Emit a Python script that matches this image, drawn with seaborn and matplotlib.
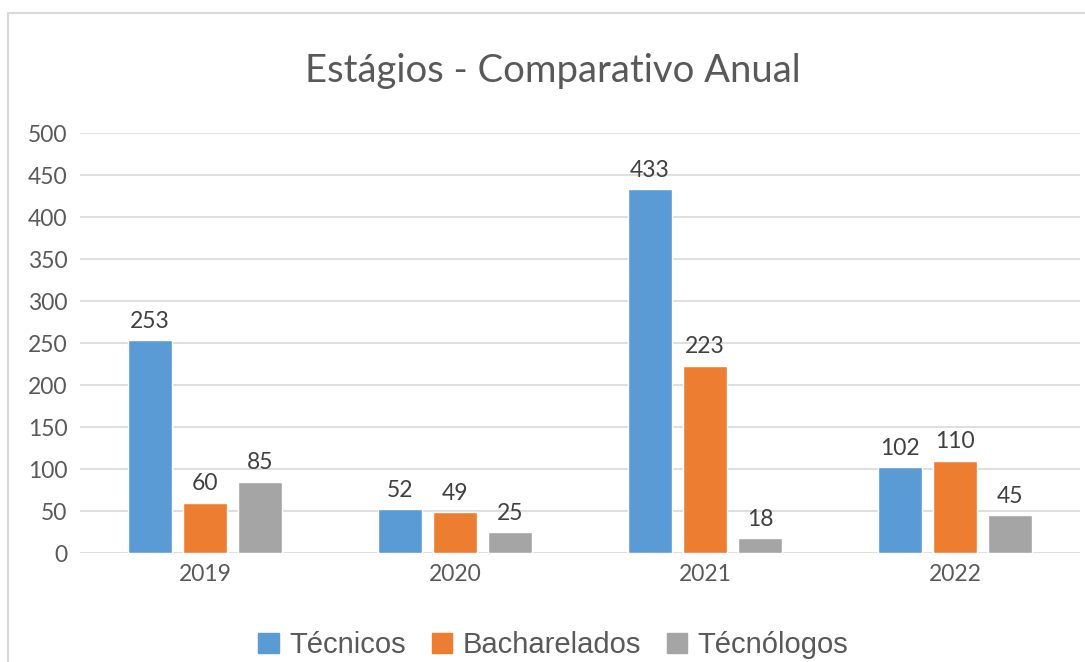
import matplotlib
matplotlib.use("Agg")
import matplotlib.pyplot as plt
import seaborn as sns
import pandas as pd
from matplotlib.patches import Rectangle

years = ["2019", "2020", "2021", "2022"]
series = ["Técnicos", "Bacharelados", "Técnólogos"]
tecnicos = [253, 52, 433, 102]
bacharelados = [60, 49, 223, 110]
tecnologos = [85, 25, 18, 45]
colors = ["#5B9BD5", "#ED7D31", "#A5A5A5"]

rows = []
for s, vals in zip(series, [tecnicos, bacharelados, tecnologos]):
    for y, v in zip(years, vals):
        rows.append({"Ano": y, "Série": s, "Valor": v})
df = pd.DataFrame(rows)

sns.set_theme(style="white")
plt.rcParams["font.family"] = ["Lato", "DejaVu Sans"]

fig = plt.figure(figsize=(10.85, 6.62), dpi=100)
ax = fig.add_axes([80 / 1085, 1 - 553 / 662, 1000 / 1085, 420 / 662])

sns.barplot(data=df, x="Ano", y="Valor", hue="Série", order=years, hue_order=series,
            palette=colors, width=0.66, gap=0.2, ax=ax, legend=False, saturation=1)

ax.set_xlim(-0.5, 3.5)
ax.set_ylim(0, 500)
ax.set_yticks(range(0, 501, 50))
ax.yaxis.grid(True, color="#D9D9D9", linewidth=1.2)
ax.set_axisbelow(True)
for sp in ax.spines.values():
    sp.set_visible(False)
ax.set_xlabel("")
ax.set_ylabel("")
ax.tick_params(axis="both", length=0, labelsize=16.5, labelcolor="#595959")
ax.tick_params(axis="y", pad=9)
ax.tick_params(axis="x", pad=8)

for cont in ax.containers:
    ax.bar_label(cont, padding=6, fontsize=16.5, color="#404040")

fig.text(0.51, 1 - 71 / 662, "Estágios - Comparativo Anual", ha="center", va="center",
         fontsize=27.5, color="#595959")

handles = [Rectangle((0, 0), 1, 1, color=c) for c in colors]
fig.legend(handles, series, loc="center", bbox_to_anchor=(0.51, 1 - 645 / 662), ncol=3,
           frameon=False, prop={"family": "Liberation Sans", "size": 21},
           handlelength=0.7, handleheight=0.7, handletextpad=0.35, columnspacing=0.9,
           labelcolor="#595959")

fig.patches.append(Rectangle((8 / 1085, -0.1), 1.2, 1 - 13 / 662 + 0.1, transform=fig.transFigure,
                             fill=False, edgecolor="#D9D9D9", linewidth=1.5))

fig.savefig("out.png", dpi=100)
